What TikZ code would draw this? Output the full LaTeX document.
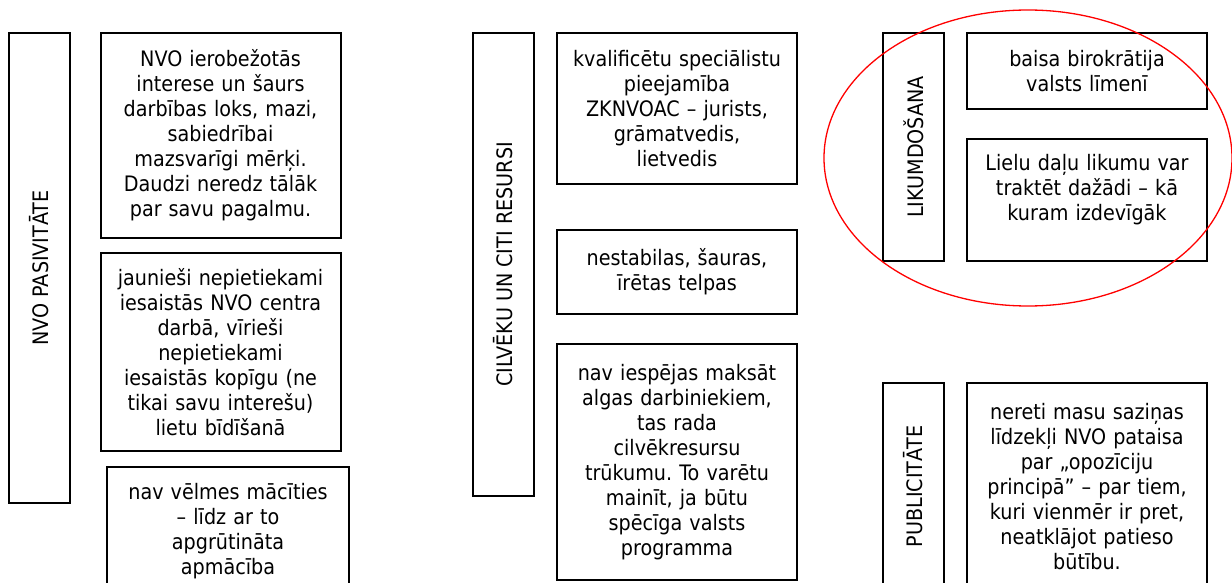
\documentclass[tikz,border=0pt]{standalone}
\usepackage{fontspec}
\setmainfont{DejaVu Sans}[FakeStretch=0.9]
\usetikzlibrary{shapes.geometric}
\frenchspacing

\begin{document}
\begin{tikzpicture}[
  x=1pt, y=-1pt,
  font=\fontsize{21.3pt}{25pt}\selectfont,
  cat/.style={
    rectangle, draw=black, line width=2pt, rotate=90,
    minimum height=61pt, inner sep=0pt
  },
  item/.style={
    rectangle, draw=black, line width=2pt,
    minimum width=240pt, text width=230pt, align=center, inner sep=4pt
  },
  focus/.style={
    ellipse, draw=red, line width=1.3pt, inner sep=0pt
  },
]
\useasboundingbox (0,0) rectangle (1232,583);
\clip (0,0) rectangle (1232,583);

% First column: passivity
\node[cat, minimum width=470pt] (pasiv) at (39.5,268) {NVO PASIVITĀTE};
\node[item, minimum height=205pt] (interese) at (220.5,135.5)
  {NVO ierobežotās\\interese un šaurs\\darbības loks, mazi,\\sabiedrībai\\mazsvarīgi mērķi.\\Daudzi neredz tālāk\\par savu pagalmu.};
\node[item, minimum height=198pt] (jaunie) at (220.5,352)
  {jaunieši nepietiekami\\iesaistās NVO centra\\darbā, vīrieši\\nepietiekami\\iesaistās kopīgu (ne\\tikai savu interešu)\\lietu bīdīšanā};
\node[item, minimum width=242pt, minimum height=128pt] (macities) at (228,531)
  {nav vēlmes mācīties\\– līdz ar to\\apgrūtināta\\apmācība};

% Second column: resources
\node[cat, minimum width=463pt] (resursi) at (503.5,264.5) {CILVĒKU UN CITI RESURSI};
\node[item, minimum height=151pt] (speci) at (677,108.5)
  {kvalificētu speciālistu\\pieejamība\\ZKNVOAC – jurists,\\grāmatvedis,\\lietvedis};
\node[item, minimum height=84pt] (telpas) at (677,272)
  {nestabilas, šauras,\\īrētas telpas};
\node[item, minimum height=236pt] (algas) at (677,462)
  {nav iespējas maksāt\\algas darbiniekiem,\\tas rada\\cilvēkresursu\\trūkumu. To varētu\\mainīt, ja būtu\\spēcīga valsts\\programma};

% Third column: legislation, circled
\node[cat, minimum width=228pt] (likum) at (913.5,147) {LIKUMDOŠANA};
\node[item, minimum height=76pt] (biro) at (1087,71)
  {baisa birokrātija\\valsts līmenī};
\node[item, minimum height=122pt] (daudz) at (1087,200)
  {Lielu daļu likumu var\\traktēt dažādi – kā\\kuram izdevīgāk\\[0pt]\mbox{}};
\node[focus, minimum width=408pt, minimum height=296pt] (aplis) at (1028,158) {};

% Third column: publicity
\node[cat, minimum width=207pt] (publ) at (913.5,486.5) {PUBLICITĀTE};
\node[item, minimum height=208pt] (mediji) at (1087,487)
  {nereti masu saziņas\\līdzekļi NVO pataisa\\par „opozīciju\\principā” – par tiem,\\kuri vienmēr ir pret,\\neatklājot patieso\\būtību.};

\end{tikzpicture}
\end{document}
